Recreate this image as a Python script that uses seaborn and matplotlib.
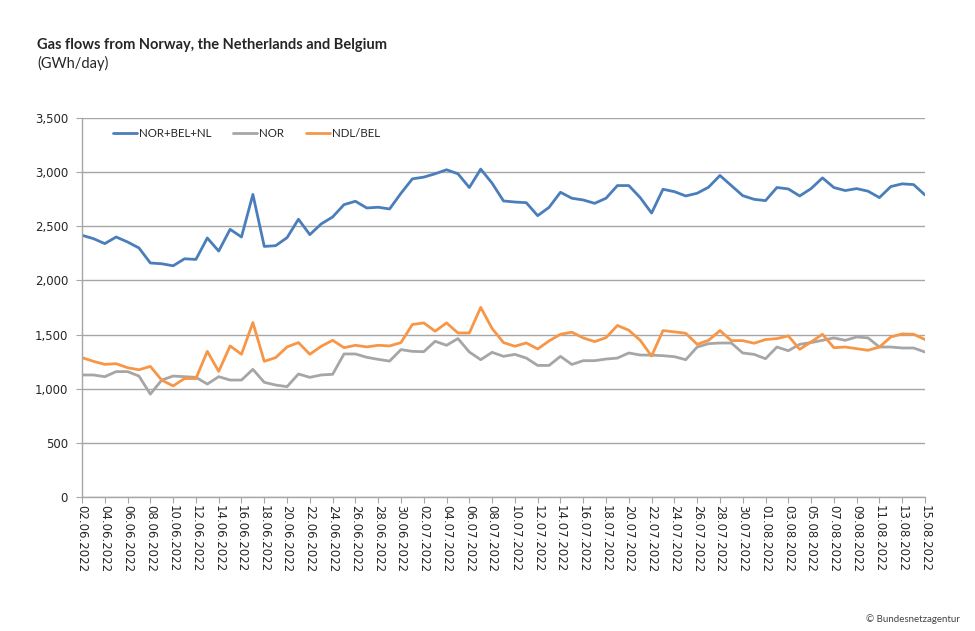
import numpy as np
import pandas as pd
import matplotlib
matplotlib.use("Agg")
import matplotlib.pyplot as plt
import matplotlib.dates as mdates
from matplotlib.ticker import FuncFormatter, MultipleLocator
import seaborn as sns

# daily values, 02.06.2022 - 15.08.2022 (GWh/day)
dates = pd.date_range("2022-06-02", "2022-08-15", freq="D")

total = [2417, 2386, 2340, 2401, 2355, 2300, 2161, 2154, 2135, 2200,
         2194, 2392, 2271, 2472, 2401, 2794, 2314, 2321, 2395, 2565,
         2423, 2522, 2586, 2700, 2731, 2669, 2676, 2660, 2805, 2938,
         2954, 2985, 3022, 2985, 2858, 3028, 2898, 2734, 2724, 2718,
         2598, 2675, 2814, 2759, 2743, 2712, 2759, 2876, 2876, 2765,
         2622, 2842, 2820, 2780, 2805, 2861, 2969, 2876, 2783, 2749,
         2737, 2858, 2845, 2780, 2848, 2947, 2858, 2830, 2848, 2824,
         2765, 2867, 2892, 2885, 2789]

nor = [1127, 1127, 1111, 1158, 1158, 1117, 950, 1080, 1117, 1111,
       1105, 1043, 1111, 1080, 1080, 1179, 1059, 1034, 1019, 1136,
       1105, 1127, 1133, 1321, 1321, 1290, 1271, 1255, 1361, 1345,
       1342, 1438, 1401, 1463, 1339, 1268, 1336, 1299, 1317, 1283,
       1215, 1215, 1299, 1224, 1259, 1259, 1274, 1283, 1330, 1311,
       1310, 1305, 1296, 1268, 1385, 1416, 1422, 1422, 1330, 1317,
       1277, 1385, 1351, 1410, 1426, 1447, 1469, 1447, 1478, 1469,
       1385, 1385, 1376, 1376, 1339]

ndl_bel = [1287, 1253, 1225, 1231, 1194, 1175, 1206, 1079, 1026, 1094,
           1094, 1345, 1160, 1395, 1318, 1611, 1253, 1287, 1386, 1426,
           1318, 1392, 1447, 1379, 1401, 1386, 1401, 1395, 1426, 1593,
           1608, 1531, 1608, 1515, 1515, 1751, 1556, 1426, 1392, 1423,
           1367, 1441, 1503, 1522, 1469, 1435, 1472, 1584, 1540, 1447,
           1302, 1537, 1525, 1512, 1410, 1447, 1537, 1444, 1444, 1420,
           1454, 1463, 1488, 1364, 1432, 1503, 1379, 1385, 1370, 1355,
           1385, 1478, 1506, 1503, 1454]

series_names = ["NOR+BEL+NL", "NOR", "NDL/BEL"]
colors = ["#4A7EBB", "#A6A6A6", "#F79646"]

df = pd.DataFrame({"date": dates, "NOR+BEL+NL": total, "NOR": nor, "NDL/BEL": ndl_bel})
long_df = df.melt(id_vars="date", var_name="series", value_name="value")

sns.set_style("white")
plt.rcParams["font.family"] = ["DejaVu Sans"]

fig = plt.figure(figsize=(9.75, 6.31), dpi=100)
ax = fig.add_axes([82 / 975, (631 - 497) / 631, (925 - 82) / 975, (497 - 118) / 631])

sns.lineplot(data=long_df, x="date", y="value", hue="series",
             hue_order=series_names, palette=colors, linewidth=2.0, ax=ax)

ax.set_xlim(dates[0], dates[-1])
ax.set_ylim(0, 3500)
ax.yaxis.set_major_locator(MultipleLocator(500))
ax.yaxis.set_major_formatter(FuncFormatter(lambda v, p: f"{int(v):,}"))
ax.xaxis.set_major_locator(mdates.DayLocator(interval=2))
ax.xaxis.set_major_formatter(mdates.DateFormatter("%d.%m.%Y"))

ax.set_xlabel("")
ax.set_ylabel("")
ax.grid(axis="y", color="#A6A6A6", linewidth=1.0)
ax.set_axisbelow(True)
for s in ["top", "right"]:
    ax.spines[s].set_visible(False)
for s in ["left", "bottom"]:
    ax.spines[s].set_color("#A6A6A6")
    ax.spines[s].set_linewidth(1.0)

ax.tick_params(axis="y", labelsize=8.5, length=4, color="#A6A6A6", pad=6, left=True)
ax.tick_params(axis="x", labelsize=8.5, length=4, color="#A6A6A6", pad=2,
               bottom=True, labelrotation=270)
for lab in ax.get_xticklabels():
    lab.set_ha("center")
    lab.set_va("top")

ax.legend(loc="upper left", bbox_to_anchor=(0.024, 1.0), ncol=3, frameon=False,
          prop={"family": ["Lato", "DejaVu Sans"], "size": 8.3},
          handlelength=2.1, handletextpad=0.15, columnspacing=1.9)

fig.text(37 / 975, 1 - 45 / 631, "Gas flows from Norway, the Netherlands and Belgium",
         fontsize=10.5, fontweight="bold", family=["Lato", "DejaVu Sans"], va="center")
fig.text(37 / 975, 1 - 63 / 631, "(GWh/day)", fontsize=10.5,
         family=["Lato", "DejaVu Sans"], va="center")
fig.text(960 / 975, 1 - 619 / 631, "© Bundesnetzagentur", fontsize=7, ha="right",
         va="center", color="#444444", family=["Lato", "DejaVu Sans"])

fig.savefig("out.png", dpi=100)
